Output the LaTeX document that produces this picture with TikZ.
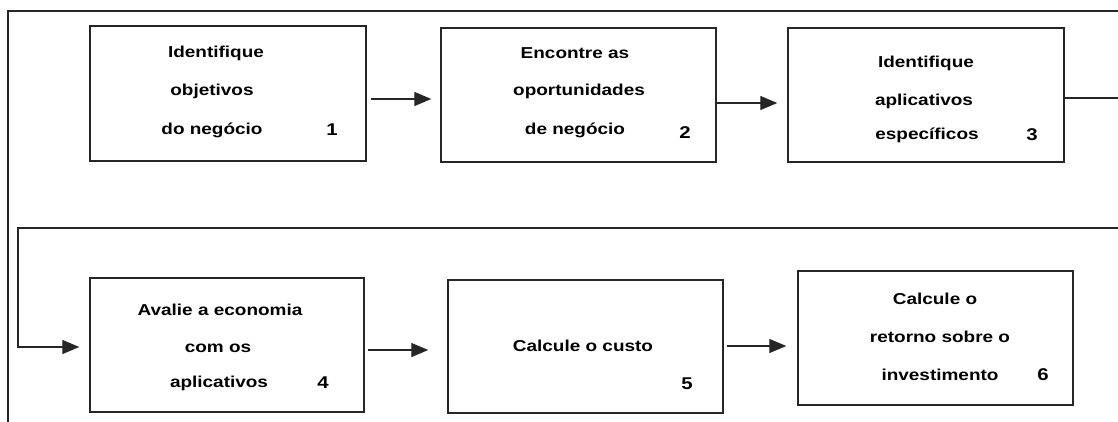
\documentclass[tikz,border=0pt]{standalone}
\usepackage{fontspec}
\setmainfont{Liberation Sans}[FakeStretch=1.2]
\usetikzlibrary{arrows.meta}
\begin{document}
\begin{tikzpicture}[x=1pt,y=-1pt,
  stepbox/.style={draw=black!85,line width=1.4pt,rectangle,inner sep=0pt},
  txt/.style={font=\fontsize{15.8}{38}\selectfont\bfseries,align=center,inner sep=0pt,anchor=base},
  num/.style={font=\fontsize{17}{18}\selectfont\bfseries,inner sep=0pt,anchor=base},
  conn/.style={line width=1.3pt,draw=black!85},
  arr/.style={conn,-{Triangle[length=17pt,width=14pt]}}]
\useasboundingbox (0,0) rectangle (1118,421);
\clip (0,0) rectangle (1118,421);
% frame
\draw[line width=1.6pt,draw=black!85] (8,440) -- (8,11) -- (1140,11);
% boxes
\node[stepbox,minimum width=276pt,minimum height=135pt] (b1) at (228,93.5) {};
\node[stepbox,minimum width=275pt,minimum height=134pt] (b2) at (578.5,95) {};
\node[stepbox,minimum width=276pt,minimum height=134pt] (b3) at (926,95) {};
\node[stepbox,minimum width=274pt,minimum height=134pt] (b4) at (227,345) {};
\node[stepbox,minimum width=275pt,minimum height=133pt] (b5) at (585.5,346.5) {};
\node[stepbox,minimum width=275pt,minimum height=134pt] (b6) at (935.5,338) {};
% texts
\node[txt] (t1a) at (216,57) {Identifique};
\node[txt] (t1b) at (212,95) {objetivos};
\node[txt] (t1c) at (212,134) {do negócio};
\node[num] (n1) at (332,135) {1};
\node[txt] (t2a) at (575,58) {Encontre as};
\node[txt] (t2b) at (579,95) {oportunidades};
\node[txt] (t2c) at (575,134) {de negócio};
\node[num] (n2) at (685,138) {2};
\node[txt] (t3a) at (926,67) {Identifique};
\node[txt] (t3b) at (924,105) {aplicativos};
\node[txt] (t3c) at (927,139) {específicos};
\node[num] (n3) at (1032,140) {3};
\node[txt] (t4a) at (220,315) {Avalie a economia};
\node[txt] (t4b) at (218,352) {com os};
\node[txt] (t4c) at (219,387) {aplicativos};
\node[num] (n4) at (323,388) {4};
\node[txt] (t5a) at (583,351) {Calcule o custo};
\node[num] (n5) at (687,389) {5};
\node[txt] (t6a) at (935,304) {Calcule o};
\node[txt] (t6b) at (940,342) {retorno sobre o};
\node[txt] (t6c) at (940,380) {investimento};
\node[num] (n6) at (1043,380) {6};
% connectors
\draw[arr,shorten <=4pt,shorten >=9pt] ([yshift=-5.5pt]b1.east) -- ([yshift=-5.5pt]b1.east -| b2.west);
\draw[arr,shorten >=10pt] ([yshift=-8pt]b2.east) -- ([yshift=-8pt]b2.east -| b3.west);
\coordinate (r34) at (1140,228);
\coordinate (l34) at (18,228);
\draw[arr,shorten >=10pt] ([yshift=-3pt]b3.east) -| (r34) -- (l34) |- ([yshift=-2pt]b4.west);
\draw[arr,shorten <=3pt,shorten >=19pt] ([yshift=-5pt]b4.east) -- ([yshift=-5pt]b4.east -| b5.west);
\draw[arr,shorten <=3pt,shorten >=11pt] ([yshift=0.5pt]b5.east) -- ([yshift=0.5pt]b5.east -| b6.west);
\end{tikzpicture}
\end{document}
